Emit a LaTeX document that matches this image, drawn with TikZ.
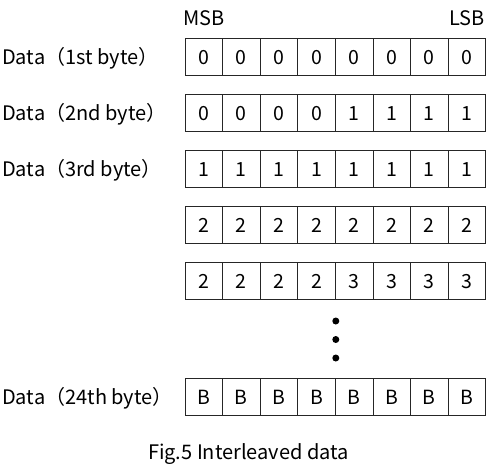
\documentclass[tikz,border=0pt]{standalone}
\usepackage{fontspec}
\setmainfont{Noto Sans CJK JP}
\begin{document}
\begin{tikzpicture}[x=1pt,y=1pt,
  cellbox/.style={draw=black!85, line width=0.9pt, minimum width=37.6pt, minimum height=37pt, inner sep=0pt, anchor=north west, font=\fontsize{19.5}{19.5}\selectfont, text height=14.2pt, text depth=0pt},
  rowlabel/.style={anchor=west, inner sep=0pt, font=\fontsize{20}{20}\selectfont, text height=14.6pt, text depth=0pt},
  endlabel/.style={anchor=center, inner sep=0pt, font=\fontsize{20}{20}\selectfont, text height=14.6pt, text depth=0pt},
  dotmark/.style={circle, fill=black, inner sep=0pt, minimum size=7pt}]
\useasboundingbox (0,0) rectangle (489,-467);
\def\xo{184.5}
\def\cw{37.6}
% rows
\foreach \r/\top/\vals in {a/38/{0,0,0,0,0,0,0,0}, b/94/{0,0,0,0,1,1,1,1}, c/150/{1,1,1,1,1,1,1,1}, d/206/{2,2,2,2,2,2,2,2}, e/262/{2,2,2,2,3,3,3,3}, f/378/{B,B,B,B,B,B,B,B}} {
  \foreach \v [count=\i from 0] in \vals {
    \node[cellbox] (\r\i) at ({\xo+\i*\cw},-\top) {\v};
  }
}
\node[endlabel] (msb) at (a0.center |- 0,-18) {MSB};
\node[endlabel] (lsb) at (a7.center |- 0,-18) {LSB};
\node[rowlabel] (la) at (2,0 |- a0.center) {Data（1st byte）};
\node[rowlabel] (lb) at (2,0 |- b0.center) {Data（2nd byte）};
\node[rowlabel] (lc) at (2,0 |- c0.center) {Data（3rd byte）};
\node[rowlabel] (lf) at (2,0 |- f0.center) {Data（24th byte）};
\node[dotmark] (d1) at (e3.south east |- 0,-321) {};
\node[dotmark] (d2) at (e3.south east |- 0,-339.5) {};
\node[dotmark] (d3) at (e3.south east |- 0,-358) {};
\node[endlabel] (cap) at (248.5,-452) {Fig.5 Interleaved data};
\end{tikzpicture}
\end{document}
